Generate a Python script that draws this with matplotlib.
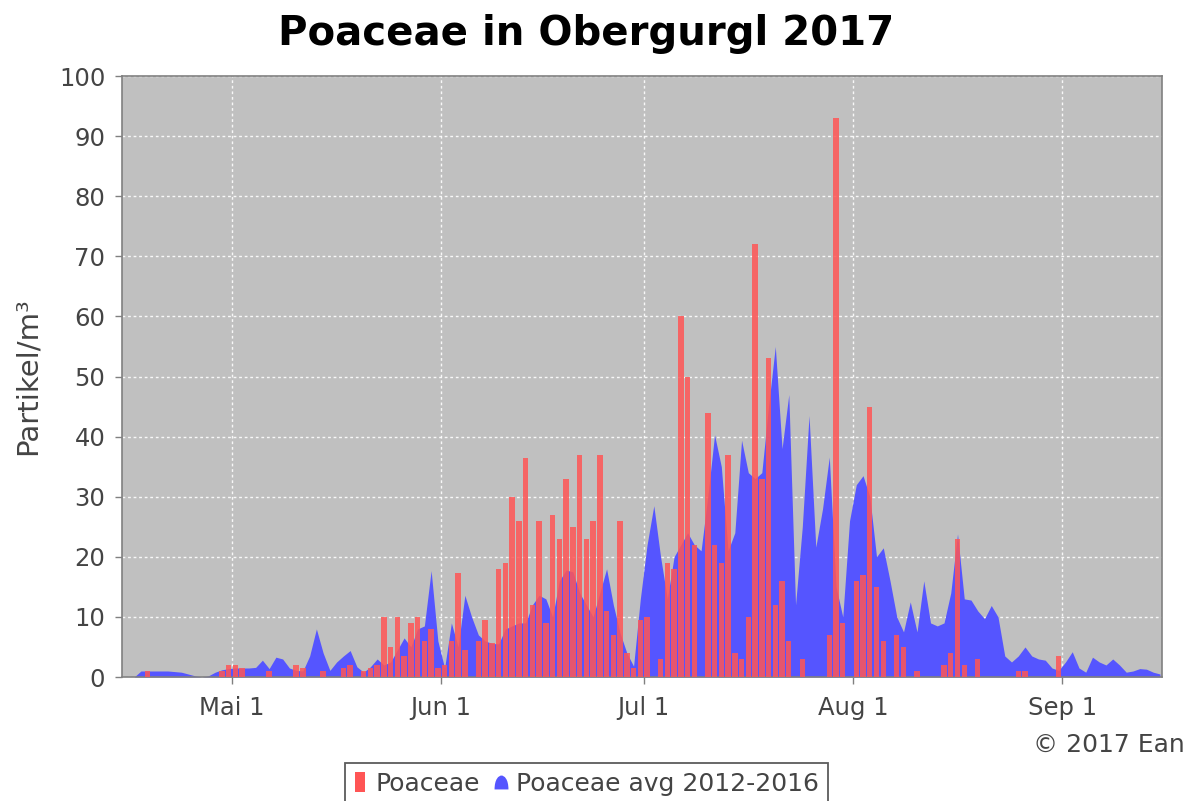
import numpy as np
import pandas as pd
import matplotlib
matplotlib.use("Agg")
import matplotlib.pyplot as plt
import matplotlib.dates as mdates
from matplotlib.lines import Line2D
from matplotlib.path import Path

# daily pollen counts, first day 2017-04-15
start = "2017-04-15"

poaceae = [
    0, 0, 0, 1, 0, 0, 0, 0, 0, 0,
    0, 0, 0, 0, 1, 2, 2, 1.5, 0, 0,
    0, 1, 0, 0, 0, 2, 1.5, 0, 0, 1,
    0, 0, 1.5, 2, 0, 1, 1.5, 2, 10, 5,
    10, 3.5, 9, 10, 6, 8, 1.5, 2, 6, 17.3,
    4.5, 0, 6, 9.5, 5.6, 18, 19, 30, 26, 36.4,
    12, 26, 9, 27, 23, 33, 25, 37, 23, 26,
    37, 11, 7, 26, 4, 1.5, 9.5, 10, 0, 3,
    19, 18, 60, 50, 22, 0, 44, 22, 19, 37,
    4, 3, 10, 72, 33, 53, 12, 16, 6, 0,
    3, 0, 0, 0, 7, 93, 9, 0, 16, 17,
    45, 15, 6, 0, 7, 5, 0, 1, 0, 0,
    0, 2, 4, 23, 2, 0, 3, 0, 0, 0,
    0, 0, 1, 1, 0, 0, 0, 0, 3.5, 0,
    0, 0, 0, 0, 0, 0, 0, 0, 0, 0,
    0, 0, 0, 0,
]

avg_2012_2016 = [
    0, 0, 1.0, 1.0, 1.0, 1.0, 1.0, 0.9, 0.8, 0.5,
    0.2, 0, 0.2, 0.8, 1.2, 1.4, 1.5, 1.5, 1.5, 1.6,
    2.8, 1.4, 3.3, 3.0, 1.5, 1.1, 1.0, 3.5, 8.0, 4.0,
    1.1, 2.5, 3.5, 4.4, 1.7, 0.8, 1.7, 3.0, 2.0, 2.5,
    4.5, 6.5, 5.0, 8.0, 8.5, 17.7, 6.0, 1.5, 9.0, 5.0,
    13.6, 10.0, 7.0, 6.0, 5.6, 5.5, 8.0, 8.5, 9.0, 9.0,
    12.0, 13.6, 13.0, 10.0, 16.0, 17.8, 17.5, 14.0, 12.0, 10.0,
    14.0, 18.0, 12.0, 7.3, 4.0, 1.8, 13.0, 22.0, 28.5, 20.0,
    13.0, 20.0, 22.0, 24.0, 22.0, 21.0, 30.0, 40.3, 35.0, 21.0,
    24.0, 39.4, 34.0, 33.0, 34.0, 45.0, 55.0, 38.0, 47.0, 12.0,
    25.0, 43.5, 21.6, 28.0, 36.6, 15.0, 10.0, 26.0, 32.0, 33.5,
    30.0, 20.0, 21.5, 16.0, 10.0, 7.5, 12.5, 7.5, 16.0, 9.0,
    8.5, 9.0, 14.0, 23.8, 13.0, 12.8, 11.0, 9.7, 11.9, 10.0,
    3.5, 2.5, 3.5, 5.0, 3.5, 3.0, 2.8, 1.5, 1.1, 2.5,
    4.2, 1.5, 0.8, 3.3, 2.5, 2.0, 3.0, 2.0, 0.8, 1.0,
    1.4, 1.3, 0.8, 0.5,
]

tick_dates = ["2017-05-01", "2017-06-01", "2017-07-01", "2017-08-01", "2017-09-01"]
tick_labels = ["Mai 1", "Jun 1", "Jul 1", "Aug 1", "Sep 1"]

x0 = mdates.date2num(pd.Timestamp(start))
days = pd.date_range(start, periods=len(poaceae), freq="D")
x = mdates.date2num(days) + 0.5

fig = plt.figure(figsize=(11.94, 8.01), dpi=100)
ax = fig.add_axes([0.1022, 0.1548, 0.8710, 0.7503])
ax.set_facecolor("#c0c0c0")

ax.fill_between(x, avg_2012_2016, color="#5555ff", lw=0, zorder=2)
ax.bar(x, poaceae, width=0.8, color="#ff5555", alpha=0.85, lw=0, zorder=3)

ax.set_xlim(x0 - 0.3, x0 + 153.8)
ax.set_ylim(0, 100)
ax.set_yticks(np.arange(0, 101, 10))
ax.set_xticks([mdates.date2num(pd.Timestamp(t)) for t in tick_dates])
ax.set_xticklabels(tick_labels)

ax.set_axisbelow(True)
ax.grid(True, color="white", linestyle=(0, (2, 2)), linewidth=1.0, alpha=0.9)
for s in ax.spines.values():
    s.set_color("#808080")
    s.set_linewidth(1.2)
ax.tick_params(colors="#808080", labelcolor="#444444", labelsize=17.5,
               length=5, width=1)
ax.tick_params(axis="y", pad=7)
ax.tick_params(axis="x", pad=9)

fig.text(0.491, 0.957, "Poaceae in Obergurgl 2017", ha="center", va="center",
         fontsize=29, fontweight="bold", color="black")
fig.text(0.0235, 0.531, "Partikel/m³", rotation=90, ha="center", va="center",
         fontsize=21, color="#444444")
fig.text(1185 / 1194, 1 - 745 / 801, "© 2017 Ean", ha="right", va="center",
         fontsize=18, color="#444444")

# legend markers: tall red block and a blue dome for the area series
bar_mark = Path([(-0.28, -0.5), (0.28, -0.5), (0.28, 0.5), (-0.28, 0.5), (0, 0)],
                [Path.MOVETO, Path.LINETO, Path.LINETO, Path.LINETO, Path.CLOSEPOLY])
dome_mark = Path([(-0.5, -0.5), (0.5, -0.5), (0.5, 0.25), (0.2, 0.5), (0, 0.5),
                  (-0.2, 0.5), (-0.5, 0.25), (-0.5, -0.5), (0, 0)],
                 [Path.MOVETO, Path.LINETO, Path.CURVE4, Path.CURVE4, Path.CURVE4,
                  Path.CURVE4, Path.CURVE4, Path.CURVE4, Path.CLOSEPOLY])
handles = [
    Line2D([], [], ls="none", marker=bar_mark, markersize=14,
           markerfacecolor="#ff5555", markeredgewidth=0),
    Line2D([], [], ls="none", marker=dome_mark, markersize=10,
           markerfacecolor="#5555ff", markeredgewidth=0),
]
leg = fig.legend(handles, ["Poaceae", "Poaceae avg 2012-2016"],
                 loc="upper center", bbox_to_anchor=(586.5 / 1194, 1 - 763 / 801),
                 ncol=2, frameon=True, fancybox=False, fontsize=18,
                 handlelength=0.5, handletextpad=0.35, columnspacing=0.6,
                 borderpad=0.35, borderaxespad=0, labelcolor="#444444")
leg.get_frame().set_edgecolor("#333333")
leg.get_frame().set_linewidth(1.3)

fig.savefig("out.png", dpi=100)
